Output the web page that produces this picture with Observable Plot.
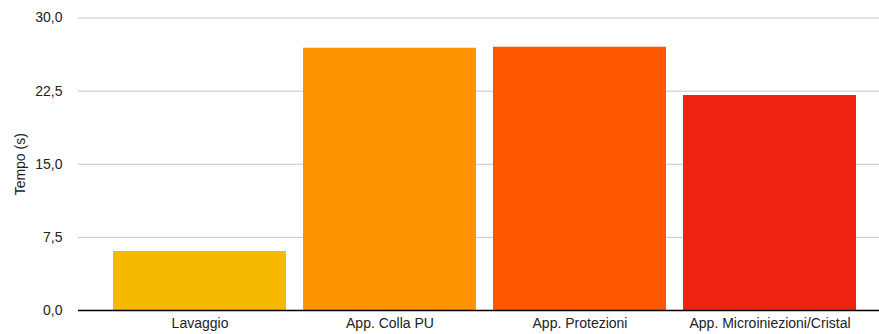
<!DOCTYPE html>
<html>
<head>
<meta charset="utf-8">
<script src="https://cdn.jsdelivr.net/npm/d3@7"></script>
<script src="https://cdn.jsdelivr.net/npm/@observablehq/plot@0.6"></script>
<style>
  html, body { margin: 0; padding: 0; background: #fff; }
  #chart { width: 879px; height: 334px; }
</style>
</head>
<body>
<div id="chart"></div>
<script>
const categories = ["Lavaggio", "App. Colla PU", "App. Protezioni", "App. Microiniezioni/Cristal"];
const values = [6.05, 26.9, 27.0, 22.05];
const colors = ["#F6B900", "#FF9400", "#FF5600", "#EE2211"];
const yTicks = [0, 7.5, 15, 22.5, 30];

const data = categories.map((c, i) => ({ category: c, value: values[i] }));
const fmt = d3.format(".1f");

const chart = Plot.plot({
  width: 879,
  height: 334,
  marginLeft: 78,
  marginRight: 0,
  marginTop: 17.5,
  marginBottom: 24,
  style: { fontFamily: "Liberation Sans, Arial, Helvetica, sans-serif", fontSize: "14px", color: "#222", background: "#fff" },
  x: { domain: categories, range: [104.5, 864.5], paddingInner: 0.09, paddingOuter: 0.045, label: null },
  y: { domain: [0, 30], ticks: yTicks, label: "Tempo (s)" },
  color: { domain: categories, range: colors },
  marks: [
    Plot.ruleY(yTicks.filter(t => t > 0), { stroke: "#c6c6c6", strokeWidth: 1 }),
    Plot.barY(data, { x: "category", y: "value", fill: "category" }),
    Plot.ruleY([0], { stroke: "#000", strokeWidth: 1.3 }),
    Plot.axisX({ tickSize: 0, tickPadding: 8, fontSize: 14, label: null }),
    Plot.axisY({ ticks: yTicks, tickSize: 0, tickPadding: 16, fontSize: 14,
      tickFormat: d => fmt(d).replace(".", ","),
      label: "Tempo (s)", labelAnchor: "center", labelArrow: "none", labelOffset: 63 })
  ]
});
document.getElementById("chart").appendChild(chart);
</script>
</body>
</html>
